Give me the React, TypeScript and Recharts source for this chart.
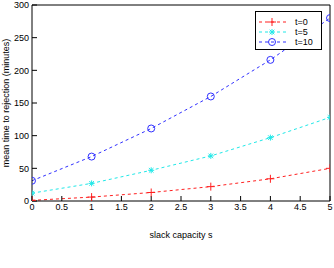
import React from "react";
import { LineChart, Line, XAxis, YAxis, Legend } from "recharts";

// slack capacity s
const slack = [0, 1, 2, 3, 4, 5];
// mean time to rejection (minutes) for each starting time t
const t0 = [1, 6, 13, 22, 34, 50];
const t5 = [12, 27, 47, 69, 97, 128];
const t10 = [31, 68, 111, 160, 216, 280];

const xTicks = [0, 0.5, 1, 1.5, 2, 2.5, 3, 3.5, 4, 4.5, 5];
const yTicks = [0, 50, 100, 150, 200, 250, 300];

const data = slack.map((s, i) => ({ s, t0: t0[i], t5: t5[i], t10: t10[i] }));

const RED = "#ff2020";
const CYAN = "#20e8e8";
const BLUE = "#3030ff";
const FONT = "'Liberation Sans', Arial, sans-serif";
const FS = 9;

type DotProps = { cx?: number; cy?: number; key?: string };

const Plus = ({ cx, cy, color }: { cx: number; cy: number; color: string }) => (
  <g stroke={color} strokeWidth={1}>
    <line x1={cx - 4} y1={cy} x2={cx + 4} y2={cy} />
    <line x1={cx} y1={cy - 4} x2={cx} y2={cy + 4} />
  </g>
);

const Star = ({ cx, cy, color }: { cx: number; cy: number; color: string }) => (
  <g stroke={color} strokeWidth={1}>
    <line x1={cx - 3} y1={cy} x2={cx + 3} y2={cy} />
    <line x1={cx} y1={cy - 3} x2={cx} y2={cy + 3} />
    <line x1={cx - 2.3} y1={cy - 2.3} x2={cx + 2.3} y2={cy + 2.3} />
    <line x1={cx - 2.3} y1={cy + 2.3} x2={cx + 2.3} y2={cy - 2.3} />
  </g>
);

const Ring = ({ cx, cy, color }: { cx: number; cy: number; color: string }) => (
  <circle cx={cx} cy={cy} r={3.5} fill="none" stroke={color} strokeWidth={1} />
);

const seriesInfo = [
  { key: "t0", name: "t=0", color: RED, Marker: Plus },
  { key: "t5", name: "t=5", color: CYAN, Marker: Star },
  { key: "t10", name: "t=10", color: BLUE, Marker: Ring },
];

const LegendBox = () => (
  <div
    style={{
      border: "1px solid #000",
      background: "#fff",
      width: 67,
      height: 39,
      boxSizing: "border-box",
      padding: "5px 0 0 0",
      fontFamily: FONT,
      fontSize: FS,
      lineHeight: "10px",
    }}
  >
    {seriesInfo.map(({ key, name, color, Marker }) => (
      <div key={key} style={{ display: "flex", alignItems: "center", height: 10 }}>
        <svg width={36} height={10} style={{ display: "block", overflow: "visible" }}>
          <line x1={3} y1={5} x2={30} y2={5} stroke={color} strokeDasharray="3 3" />
          <Marker cx={16} cy={5} color={color} />
        </svg>
        <span style={{ marginLeft: 3, color: "#000" }}>{name}</span>
      </div>
    ))}
  </div>
);

const makeDot = (Marker: any, color: string) => (p: DotProps) => {
  if (p.cx == null || p.cy == null) return <g key={p.key} />;
  return (
    <g key={p.key}>
      <Marker cx={p.cx} cy={p.cy} color={color} />
    </g>
  );
};

const tickStyle = { fontSize: FS, fill: "#000", fontFamily: FONT };

export default function App() {
  return (
    <div style={{ position: "absolute", left: 0, top: 0, background: "#fff" }}>
      <LineChart
        width={334}
        height={268}
        data={data}
        margin={{ top: 4, right: 3, left: 0, bottom: 0 }}
      >
        <XAxis
          dataKey="s"
          type="number"
          domain={[0, 5]}
          ticks={xTicks}
          tickSize={-5}
          tickMargin={8}
          tick={tickStyle}
          stroke="#000"
          height={28}
          allowDataOverflow
          label={{
            value: "slack capacity s",
            position: "insideBottom",
            offset: -9,
            style: { fontSize: FS, fill: "#000", fontFamily: FONT },
          }}
        />
        <XAxis
          xAxisId="top"
          dataKey="s"
          type="number"
          orientation="top"
          domain={[0, 5]}
          ticks={xTicks}
          tickSize={-5}
          tick={false}
          stroke="#000"
          height={1}
          allowDataOverflow
        />
        <YAxis
          type="number"
          domain={[0, 300]}
          ticks={yTicks}
          tickSize={-5}
          tickMargin={8}
          tick={tickStyle}
          stroke="#000"
          width={32}
          allowDataOverflow
          label={{
            value: "mean time to rejection (minutes)",
            angle: -90,
            position: "insideLeft",
            offset: 0,
            dx: 6,
            style: { fontSize: FS, fill: "#000", fontFamily: FONT, textAnchor: "middle" },
          }}
        />
        <YAxis
          yAxisId="right"
          type="number"
          orientation="right"
          domain={[0, 300]}
          ticks={yTicks}
          tickSize={-5}
          tick={false}
          stroke="#000"
          width={1}
          allowDataOverflow
        />
        <Legend
          content={<LegendBox />}
          wrapperStyle={{ position: "absolute", left: 255, top: 11, width: 67 }}
        />
        {/* invisible series so the top and right frame axes get drawn */}
        <Line
          xAxisId="top"
          yAxisId="right"
          dataKey="t0"
          stroke="none"
          dot={false}
          activeDot={false}
          legendType="none"
          isAnimationActive={false}
        />
        {seriesInfo.map(({ key, name, color, Marker }) => (
          <Line
            key={key}
            dataKey={key}
            name={name}
            stroke={color}
            strokeWidth={1}
            strokeDasharray="3 3"
            dot={makeDot(Marker, color)}
            activeDot={false}
            isAnimationActive={false}
          />
        ))}
      </LineChart>
    </div>
  );
}
